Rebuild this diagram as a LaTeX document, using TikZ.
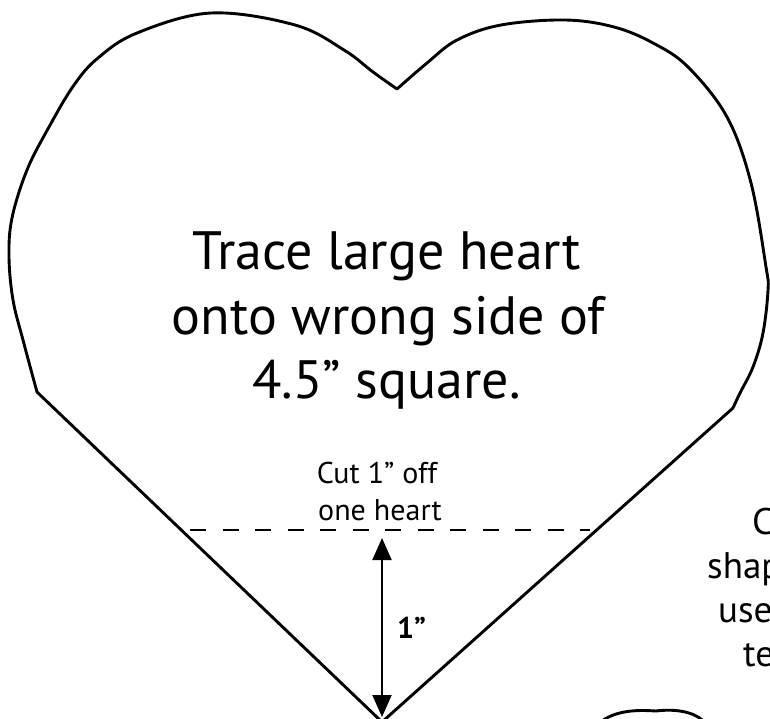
\documentclass[tikz,border=0pt]{standalone}
\usepackage{fontspec}
\setmainfont{PT Sans}
\usetikzlibrary{arrows.meta}
\begin{document}
\begin{tikzpicture}[x=1pt,y=-1pt,
  outline/.style={line width=2.9pt, line join=round, line cap=round},
  cutline/.style={line width=2.3pt, dash pattern=on 16pt off 16.5pt},
  dimarrow/.style={line width=2pt, {Triangle[width=19pt,length=22pt]}-{Triangle[width=19pt,length=22pt]}},
  bigtext/.style={font=\fontsize{54}{64}\selectfont, inner sep=0pt, anchor=base},
  smalltext/.style={font=\fontsize{30}{37}\selectfont, inner sep=0pt, anchor=base},
  sidetext/.style={font=\fontsize{37}{44}\selectfont, inner sep=0pt, anchor=base west},
  boldlabel/.style={font=\fontsize{30}{34}\selectfont\bfseries, inner sep=0pt, anchor=base west}
]
\clip (0,0) rectangle (770,719);
\useasboundingbox (0,0) rectangle (770,719);

% large heart
\draw[outline] (382,722) -- (37,392)
  -- plot[smooth, tension=0.6] coordinates {(37,392) (23,340) (13,300) (9,257) (12,218) (27,170) (49,127) (74,85) (98,58) (137,33) (211,13) (295,25) (344,50) (373,72) (397,89)}
  -- plot[smooth, tension=0.6] coordinates {(397,89) (427,63) (457,40) (501,25) (565,20) (614,27) (653,43) (688,67) (727,117) (751,183) (766,267) (768,290) (763,333) (753,367) (740,393) (733,408)}
  -- cycle;

% top of next heart (cropped)
\draw[outline] (598,724) .. controls (615,709) and (640,710) .. (656,711) .. controls (672,709) and (695,710) .. (706,724);

% main text
\node[bigtext] (t1) at (387,269) {Trace large heart};
\node[bigtext] (t2) at (388.5,334) {onto wrong side of};
\node[bigtext] (t3) at (386.5,398) {4.5” square.};

% cut note
\node[smalltext] (c1) at (377,483) {Cut 1” off};
\node[smalltext] (c2) at (380,520) {one heart};

% cut line
\coordinate (cutL) at (190,530);
\coordinate (cutR) at (590,530);
\draw[cutline] (cutL) -- (cutR);

% dimension arrow
\coordinate (arrtop) at (382,538);
\coordinate (arrbot) at (382,717);
\draw[dimarrow] (arrbot) -- (arrtop);
\node[boldlabel] (one) at (397,638) {1”};

% cropped text on the right
\node[sidetext] (r1) at (752,534) {C};
\node[sidetext] (r2) at (707,578) {shap};
\node[sidetext] (r3) at (718,622) {use};
\node[sidetext] (r4) at (743,666) {te};
\end{tikzpicture}
\end{document}
